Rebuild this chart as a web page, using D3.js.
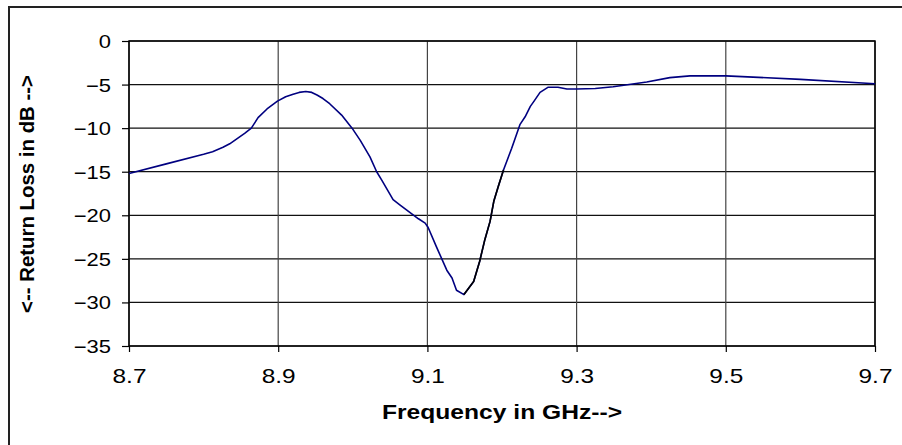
<!DOCTYPE html>
<meta charset="utf-8">
<script src="https://d3js.org/d3.v7.min.js"></script>
<style>
  body { margin: 0; background: #fff; }
  text { font-family: "Liberation Sans", Arial, sans-serif; fill: #000; }
</style>
<div id="chart"></div>
<script>
var freq = [8.700, 8.750, 8.800, 8.812, 8.826, 8.835, 8.845, 8.855, 8.864, 8.873,
            8.885, 8.899, 8.910, 8.920, 8.928, 8.937, 8.945, 8.952, 8.960, 8.969,
            8.985, 8.999, 9.010, 9.023, 9.032, 9.039, 9.054, 9.063, 9.088, 9.097,
            9.101, 9.112, 9.126, 9.133, 9.139, 9.149, 9.162, 9.170, 9.177, 9.184,
            9.189, 9.195, 9.202, 9.213, 9.224, 9.231, 9.238, 9.243, 9.251, 9.262,
            9.275, 9.287, 9.300, 9.325, 9.349, 9.394, 9.425, 9.452, 9.500, 9.600,
            9.700];
var loss = [-15.2, -14.1, -13.0, -12.7, -12.2, -11.8, -11.2, -10.6, -10.0, -8.8,
            -7.8, -6.9, -6.4, -6.1, -5.9, -5.8, -5.9, -6.2, -6.6, -7.2,
            -8.5, -10.0, -11.4, -13.3, -15.0, -16.0, -18.2, -18.8, -20.4, -20.9,
            -21.4, -23.6, -26.3, -27.2, -28.6, -29.1, -27.6, -25.3, -22.8, -20.7,
            -18.4, -16.7, -14.8, -12.3, -9.6, -8.7, -7.5, -6.9, -5.9, -5.3,
            -5.3, -5.5, -5.5, -5.45, -5.25, -4.7, -4.2, -4.0, -4.0, -4.4,
            -4.9];
// stretch of the curve that came out black in the original
var darkFrom = 9.149, darkTo = 9.202;

var xTicks = [8.7, 8.9, 9.1, 9.3, 9.5, 9.7];
var yTicks = [0, -5, -10, -15, -20, -25, -30, -35];
var xTitle = "Frequency in GHz-->";
var yTitle = "<-- Return Loss in dB -->";

var W = 902, H = 445;
var plotL = 129, plotR = 875, plotT = 41, plotB = 346;

var svg = d3.select("#chart").append("svg")
    .attr("width", W).attr("height", H);

// outer chart frame (only left/top edges fall inside the window)
svg.append("rect")
    .attr("x", 9).attr("y", 7).attr("width", W + 20).attr("height", H + 20)
    .attr("fill", "#fff").attr("stroke", "#222").attr("stroke-width", 2);

var x = d3.scaleLinear().domain([8.7, 9.7]).range([plotL, plotR]);
var y = d3.scaleLinear().domain([-35, 0]).range([plotB, plotT]);

// grid
svg.append("g").selectAll("line").data(yTicks).enter().append("line")
    .attr("x1", plotL).attr("x2", plotR)
    .attr("y1", function(d) { return y(d); }).attr("y2", function(d) { return y(d); })
    .attr("stroke", "#111").attr("stroke-width", 1.2);
svg.append("g").selectAll("line").data(xTicks).enter().append("line")
    .attr("y1", plotT).attr("y2", plotB)
    .attr("x1", function(d) { return x(d); }).attr("x2", function(d) { return x(d); })
    .attr("stroke", "#444").attr("stroke-width", 1.2);

// plot frame
svg.append("rect")
    .attr("x", plotL).attr("y", plotT).attr("width", plotR - plotL).attr("height", plotB - plotT)
    .attr("fill", "none").attr("stroke", "#000").attr("stroke-width", 1.5);

// axes
var yAxis = svg.append("g").attr("transform", "translate(" + plotL + ",0)")
    .call(d3.axisLeft(y).tickValues(yTicks).tickSize(7).tickFormat(d3.format("d")));
var xAxis = svg.append("g").attr("transform", "translate(0," + plotB + ")")
    .call(d3.axisBottom(x).tickValues(xTicks).tickSize(6).tickFormat(d3.format(".1f")));
yAxis.select(".domain").remove();
xAxis.select(".domain").remove();
svg.selectAll(".tick line").attr("stroke", "#000").attr("stroke-width", 1.2);

// tick labels are a bit wide in the original, stretch them
yAxis.selectAll(".tick text")
    .attr("x", null).attr("dy", null)
    .attr("font-size", 18).attr("text-anchor", "end")
    .attr("transform", "translate(-18,6.5) scale(1.22,1)");
xAxis.selectAll(".tick text")
    .attr("y", null).attr("dy", null)
    .attr("font-size", 20).attr("text-anchor", "middle")
    .attr("transform", "translate(0,37) scale(1.22,1)");

// titles
svg.append("text")
    .attr("x", 502).attr("y", 419)
    .attr("text-anchor", "middle")
    .attr("font-size", 21).attr("font-weight", "bold")
    .attr("textLength", 240).attr("lengthAdjust", "spacingAndGlyphs")
    .text(xTitle);
svg.append("text")
    .attr("transform", "translate(34,194) rotate(-90)")
    .attr("text-anchor", "middle")
    .attr("font-size", 20).attr("font-weight", "bold")
    .attr("textLength", 238).attr("lengthAdjust", "spacingAndGlyphs")
    .text(yTitle);

// curve
var pts = freq.map(function(f, i) { return [f, loss[i]]; });
var line = d3.line()
    .x(function(d) { return x(d[0]); })
    .y(function(d) { return y(d[1]); });

svg.append("path").datum(pts)
    .attr("d", line).attr("fill", "none")
    .attr("stroke", "#000080").attr("stroke-width", 1.6)
    .attr("stroke-linejoin", "round");
svg.append("path")
    .datum(pts.filter(function(d) { return d[0] >= darkFrom && d[0] <= darkTo; }))
    .attr("d", line).attr("fill", "none")
    .attr("stroke", "#000").attr("stroke-width", 1.6)
    .attr("stroke-linejoin", "round");
</script>
